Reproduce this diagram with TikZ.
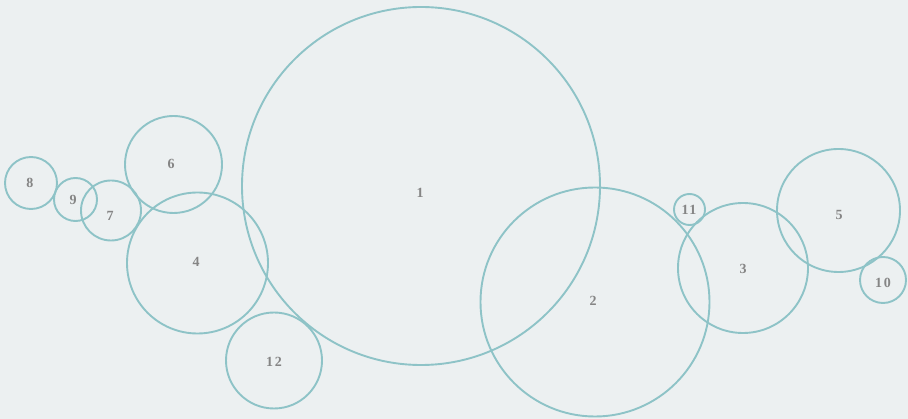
\documentclass[tikz,border=0pt]{standalone}
\usepackage{fontspec}
\setmainfont{Liberation Serif}
\definecolor{bg}{HTML}{ECF0F1}
\definecolor{ring}{HTML}{8EC3C7}
\definecolor{lbl}{HTML}{858585}
\begin{document}
\begin{tikzpicture}[x=1pt,y=-1pt,
  ring/.style={circle,draw=ring,line width=1.9pt,inner sep=0pt,minimum size=#1},
  lab/.style={text=lbl,font=\fontsize{14}{14}\selectfont\bfseries\addfontfeature{LetterSpace=12}}]
\fill[bg] (0,0) rectangle (908,419);
\useasboundingbox (0,0) rectangle (908,419);
\node[ring=358pt] (c1) at (421,186) {};
\node[ring=229pt] (c2) at (595,302) {};
\node[ring=130pt] (c3) at (743,268) {};
\node[ring=141pt] (c4) at (197.5,263) {};
\node[ring=123pt] (c5) at (838.5,210.5) {};
\node[ring=97pt] (c6) at (173.5,164.5) {};
\node[ring=60pt] (c7) at (111,210.5) {};
\node[ring=52pt] (c8) at (31,183) {};
\node[ring=43pt] (c9) at (75.5,199.5) {};
\node[ring=46pt] (c10) at (883,280) {};
\node[ring=31pt] (c11) at (689.5,209.5) {};
\node[ring=96pt] (c12) at (274,360.5) {};
\node[lab] (l1) at (420,193) {1};
\node[lab] (l2) at (593,301) {2};
\node[lab] (l3) at (743,269) {3};
\node[lab] (l4) at (196,262) {4};
\node[lab] (l5) at (839,215) {5};
\node[lab] (l6) at (171,164) {6};
\node[lab] (l7) at (110,216) {7};
\node[lab] (l8) at (30,183) {8};
\node[lab] (l9) at (73,200) {9};
\node[lab] (l10) at (883,283) {10};
\node[lab] (l11) at (689,210) {11};
\node[lab] (l12) at (274,362) {12};
\end{tikzpicture}
\end{document}
